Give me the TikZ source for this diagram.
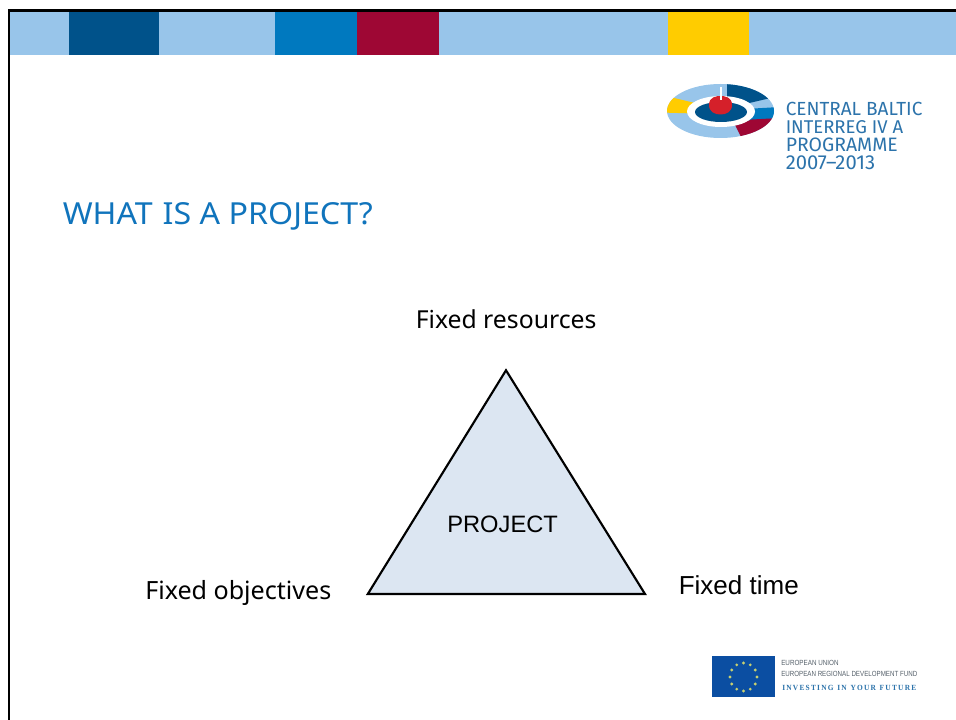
\documentclass[tikz,border=0pt]{standalone}
\usepackage{fontspec}
\usepackage{graphicx}
\setmainfont{Noto Sans}
\newfontfamily\arialf{Liberation Sans}
\newfontfamily\logof[Numbers=Lining]{Fira Sans}
\newfontfamily\eus{Liberation Serif}
\definecolor{barlight}{HTML}{98C5EA}
\definecolor{bardark}{HTML}{00528A}
\definecolor{barblue}{HTML}{0079BF}
\definecolor{barred}{HTML}{9E0734}
\definecolor{baryellow}{HTML}{FFCC00}
\definecolor{trifill}{HTML}{DCE6F2}
\definecolor{titleblue}{HTML}{1074BC}
\definecolor{logotext}{HTML}{2C73AB}
\definecolor{logored}{HTML}{D5202A}
\definecolor{flagblue}{HTML}{0B4EA2}
\definecolor{eugrey}{HTML}{55606A}
\definecolor{starcol}{HTML}{C8D070}
\newcommand{\fitpx}[2]{\resizebox{#1pt}{!}{#2}}
\newcommand{\fitbox}[3]{\resizebox{#1pt}{#2pt}{#3}}
\tikzset{
  x=0.75pt,y=-0.75pt,
  barpart/.style={fill=#1,draw=none},
  label text/.style={inner sep=0pt,anchor=base west,font=\fontsize{15}{18}\selectfont},
  arial text/.style={inner sep=0pt,anchor=base west,font=\arialf\fontsize{15}{18}\selectfont},
  logo line/.style={inner sep=0pt,anchor=base west,text=logotext,font=\logof\fontsize{12.5}{14}\selectfont},
  eu line/.style={inner sep=0pt,anchor=base west,text=eugrey,font=\arialf\fontsize{6}{7}\selectfont},
  star dot/.style={fill=starcol,draw=none},
}
\begin{document}
\begin{tikzpicture}
\useasboundingbox (0,0) rectangle (956,720);
\fill[white] (0,0) rectangle (956,720);
% top bar
\fill[barpart=barlight] (10,12) rectangle (956,55);
\fill[barpart=bardark] (68.5,12) rectangle (159,55);
\fill[barpart=barblue] (275,12) rectangle (357,55);
\fill[barpart=barred] (357,12) rectangle (439,55);
\fill[barpart=baryellow] (668,12) rectangle (748.5,55);
% frame
\fill[black] (7.5,9.5) rectangle (956,12);
\fill[black] (7.5,9.5) rectangle (10,720);
% logo
\begin{scope}
\clip (720.5,111) ellipse [x radius=53.5,y radius=27];
\fill[barlight] (660,80) rectangle (780,140);
\fill[baryellow] (660,112.5) -- (695,113.5) -- (695,103) -- (672,97.5) -- (660,97) -- cycle;
\fill[bardark] (727,80) -- (775,97) -- (745,104) -- (727,100) -- cycle;
\fill[barblue] (745,109) -- (780,107) -- (780,116.5) -- (745,125) -- cycle;
\fill[barred] (735,125) -- (752,119.5) -- (780,118) -- (780,125) -- (742.5,140) -- cycle;
\end{scope}
\fill[white] (721,111.5) ellipse [x radius=34,y radius=15.5];
\fill[bardark] (721,112) ellipse [x radius=26,y radius=10];
\fill[logored] (709,105) .. controls (709,97) and (716,96) .. (720.5,96) .. controls (725,96) and (732,97) .. (732,105) .. controls (732,112) and (726,114.5) .. (720.5,114.5) .. controls (715,114.5) and (709,112) .. (709,105) -- cycle;
\fill[white] (719.5,87) rectangle (721.5,100);
\node[logo line] (logoa) at (785.5,115.7) {\fitpx{102.5}{CENTRAL BALTIC}};
\node[logo line] (logob) at (785.5,133.7) {\fitpx{88}{INTERREG IV A}};
\node[logo line] (logoc) at (785.5,151.5) {\fitpx{84}{PROGRAMME}};
\node[logo line] (logod) at (785.5,169.5) {\fitpx{67}{2007–2013}};
% title
\node[inner sep=0pt,anchor=base west,text=titleblue,font=\fontsize{22}{26}\selectfont] (title) at (62.5,224.3) {\fitbox{232.5}{16.5}{WHAT\hspace{0.05em} IS A PROJECT?}};
% triangle
\path[draw=black,line width=1.6pt,fill=trifill,line join=miter] (506,370.3) coordinate (apex) -- (367.8,594) coordinate (lft) -- (645,594) coordinate (rgt) -- cycle;
\node[arial text] (project) at (447,532.7) {\fitpx{83}{PROJECT}};
\node[label text] (res) at (415.5,328.5) {\fitpx{135.5}{Fixed resources}};
\node[label text] (obj) at (145,599) {\fitpx{139.5}{Fixed objectives}};
\node[arial text] (time) at (678.5,594.3) {\fitpx{90}{Fixed time}};
% EU emblem
\fill[flagblue] (712,656) rectangle (775,697);
\foreach \a in {0,30,...,330}{
  \fill[star dot] ({743.5+13.5*cos(\a)},{677-14*sin(\a)}) circle [radius=1.6];
}
\node[eu line] (eua) at (781,665.5) {\fitbox{43}{3.9}{EUROPEAN UNION}};
\node[eu line] (eub) at (781,676) {\fitbox{102}{3.9}{EUROPEAN REGIONAL DEVELOPMENT FUND}};
\node[inner sep=0pt,anchor=base west,text=logotext,font=\eus\bfseries\fontsize{6}{7}\selectfont] (euc) at (782,690.5) {\fitbox{100.5}{3.9}{I\,N\,V\,E\,S\,T\,I\,N\,G\ \ I\,N\ \ Y\,O\,U\,R\ \ F\,U\,T\,U\,R\,E}};
\end{tikzpicture}
\end{document}
